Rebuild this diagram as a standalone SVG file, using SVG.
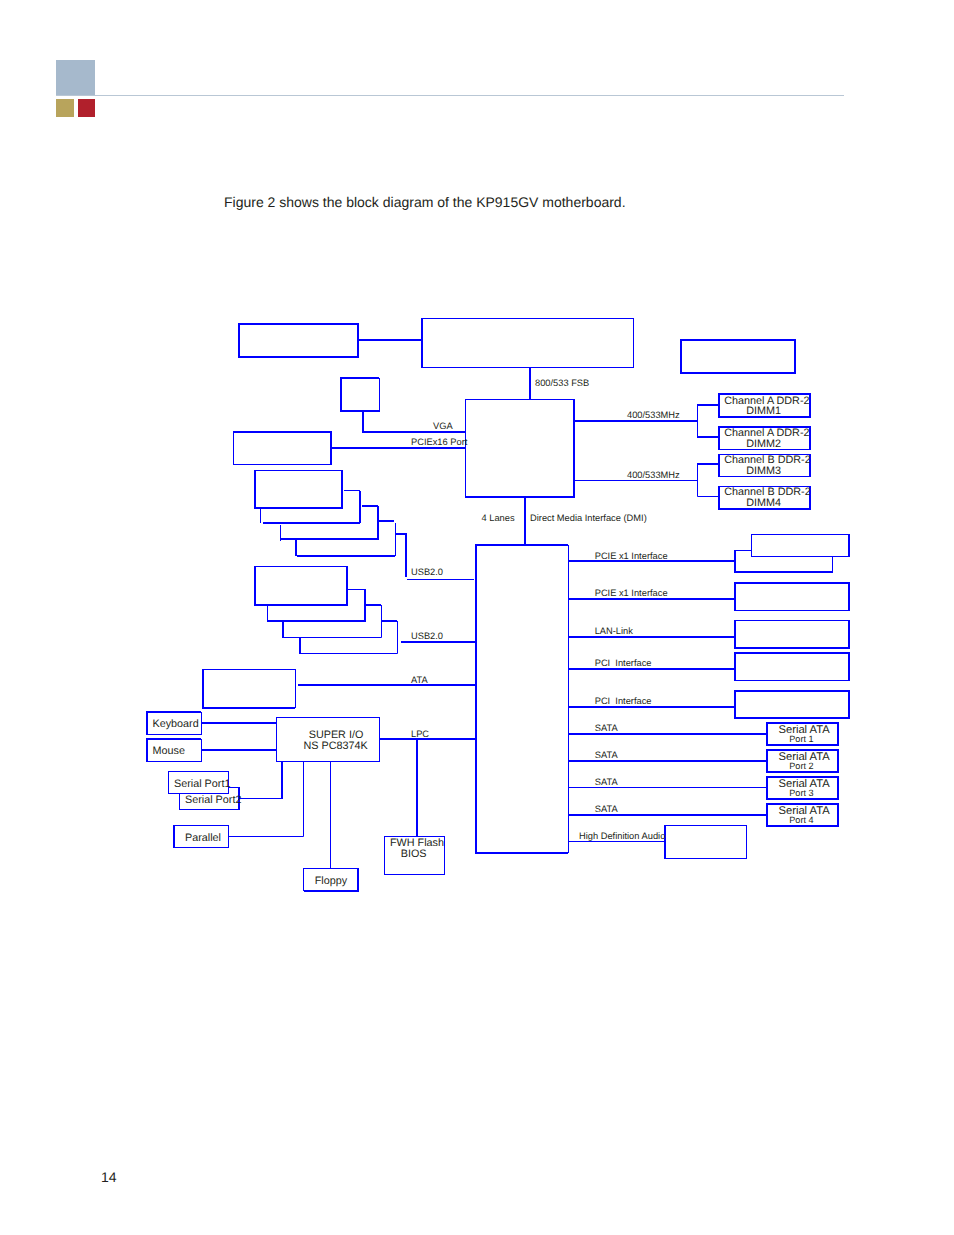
<svg xmlns="http://www.w3.org/2000/svg" width="954" height="1235" viewBox="0 0 954 1235">
<style>
text{font-family:"Liberation Sans",Arial,sans-serif;fill:#231f20;font-size:10.8px;text-rendering:geometricPrecision;white-space:pre}
.s{font-size:9.3px}
.p{font-size:9.1px}
.a{font-size:11.2px}
.r{fill:#fff;stroke:#00f;stroke-width:1}
.h{fill:#fff;stroke:#00f;stroke-width:2}
.t{fill:none;stroke:#00f;stroke-width:2}
.n{fill:none;stroke:#00f;stroke-width:1}
</style>
<rect width="954" height="1235" fill="#fff"/>
<g id="header">
<rect x="56" y="60" width="39" height="35" fill="#a6b9cc"/>
<rect x="56" y="95" width="788" height="1" fill="#b9c7d5"/>
<rect x="56" y="99" width="18" height="18" fill="#b8a45c"/>
<rect x="78" y="99" width="17" height="18" fill="#b1202c"/>
</g>
<text x="224" y="206.500" style="font-size:14px">Figure 2 shows the block diagram of the KP915GV motherboard.</text>
<text x="101" y="1181.500" style="font-size:14px">14</text>

<g id="node-top-left"><rect class="h" x="239" y="324" width="119" height="33"/></g>
<g id="node-cpu"><rect class="r" x="422.500" y="318.500" width="211" height="49"/><path class="t" d="M422 318V368"/></g>
<g id="node-top-right"><rect class="h" x="681" y="340" width="114" height="33"/></g>
<g id="node-vga"><rect class="r" x="341.500" y="378.500" width="38" height="33"/><path class="t" d="M379 378H341V411H379"/></g>
<g id="node-pcie16"><rect class="r" x="233.500" y="432.500" width="98" height="32"/><path class="t" d="M233 432H331V464"/></g>
<g id="node-mch"><rect class="r" x="465.500" y="399.500" width="109" height="98"/><path class="t" d="M574 399V497H465"/></g>

<g id="node-usb-a4"><path class="n" d="M395.500 523V556"/><path class="t" d="M296 540V556M297 556H395"/></g>
<g id="node-usb-a3"><path class="n" d="M280.500 525V541"/><path class="t" d="M378 506V539H280M362 506H378"/></g>
<g id="node-usb-a2"><path class="n" d="M344 490.500H360M260.500 508V523"/><path class="t" d="M360 491V523M263 523H360"/></g>
<g id="node-usb-a1"><rect class="r" x="255.500" y="470.500" width="87" height="38"/><path class="t" d="M255 470V508H342V470"/></g>

<g id="node-usb-b4"><path class="n" d="M397.500 621V653.500H300"/><path class="t" d="M300 637V654"/></g>
<g id="node-usb-b3"><path class="n" d="M381.500 605V637.500H283"/><path class="t" d="M283 621V638"/></g>
<g id="node-usb-b2"><path class="n" d="M347 589.500H365M267.500 605V621"/><path class="t" d="M365 589V621H267"/></g>
<g id="node-usb-b1"><rect class="r" x="255.500" y="566.500" width="92" height="38"/><path class="t" d="M255 566V605H347V566"/></g>

<g id="node-ata"><rect class="r" x="203.500" y="669.500" width="92" height="38"/><path class="t" d="M203 669V708H295"/></g>
<g id="node-keyboard"><rect class="r" x="147.500" y="712.500" width="54" height="22"/><path class="t" d="M147 735V712H201"/><text x="152.500" y="726.700">Keyboard</text></g>
<g id="node-mouse"><rect class="r" x="147.500" y="739.500" width="54" height="22"/><path class="t" d="M147 762V739H201"/><text x="152.500" y="753.700">Mouse</text></g>
<g id="node-superio"><rect class="r" x="276.500" y="717.500" width="103" height="44"/><text x="308.700" y="737.800">SUPER I/O</text><text x="303.500" y="749">NS PC8374K</text></g>
<g id="node-serial2"><rect class="r" x="179.500" y="787.500" width="60" height="22"/><path class="t" d="M239 787V810"/><text x="185" y="802.700">Serial Port2</text></g>
<g id="node-serial1"><rect class="r" x="168.500" y="771.500" width="60" height="22"/><text x="174" y="786.700">Serial Port1</text></g>
<g id="node-parallel"><rect class="r" x="173.500" y="825.500" width="55" height="22"/><path class="t" d="M174 825V848"/><text x="185" y="840.700">Parallel</text></g>
<g id="node-floppy"><rect class="r" x="303.500" y="868.500" width="55" height="22"/><path class="t" d="M304 891H358V868"/><text x="314.700" y="884">Floppy</text></g>
<g id="node-fwh"><rect class="r" x="384.500" y="836.500" width="60" height="38"/><text x="390" y="845.700">FWH Flash</text><text x="400.700" y="856.700">BIOS</text></g>
<g id="node-ich"><rect class="r" x="476.500" y="545.500" width="92" height="307"/><path class="t" d="M568 545H476V853H568"/></g>

<g id="node-dimm1"><rect class="h" x="719" y="394" width="91" height="23"/><text x="724.300" y="403.700">Channel A DDR-2</text><text x="746.200" y="414">DIMM1</text></g>
<g id="node-dimm2"><rect class="r" x="719.500" y="427.500" width="91" height="22"/><path class="t" d="M719 450V427H810V450"/><text x="724.300" y="436">Channel A DDR-2</text><text x="746.200" y="447">DIMM2</text></g>
<g id="node-dimm3"><rect class="r" x="719.500" y="454.500" width="91" height="22"/><path class="t" d="M719 454V477M810 454V477"/><text x="724.300" y="462.700">Channel B DDR-2</text><text x="746.200" y="474">DIMM3</text></g>
<g id="node-dimm4"><rect class="r" x="719.500" y="486.500" width="91" height="22"/><path class="t" d="M719 486V509H810V486"/><text x="724.300" y="494.700">Channel B DDR-2</text><text x="746.200" y="505.700">DIMM4</text></g>

<g id="node-pcie-back"><path class="n" d="M735 550.500H752M832.500 556V572"/><path class="t" d="M735 550V572H833"/></g>
<g id="node-pcie-front"><rect class="r" x="751.500" y="534.500" width="98" height="22"/><path class="t" d="M849 534V557"/></g>
<g id="node-pcie2"><rect class="r" x="735.500" y="583.500" width="114" height="27"/><path class="t" d="M735 611V583H849V611"/></g>
<g id="node-lan"><rect class="r" x="735.500" y="620.500" width="114" height="27"/><path class="t" d="M735 620V648H849V620"/></g>
<g id="node-pci1"><rect class="r" x="735.500" y="652.500" width="114" height="28"/><path class="t" d="M735 681V653H849V681"/></g>
<g id="node-pci2"><rect class="h" x="735" y="691" width="114" height="27"/></g>

<g id="node-sata1"><rect class="h" x="767" y="723" width="71" height="22"/><text class="a" x="778.500" y="733">Serial ATA</text><text class="p" x="789.300" y="741.700">Port 1</text></g>
<g id="node-sata2"><rect class="h" x="767" y="750" width="71" height="22"/><text class="a" x="778.500" y="760">Serial ATA</text><text class="p" x="789.300" y="768.700">Port 2</text></g>
<g id="node-sata3"><rect class="h" x="767" y="777" width="71" height="22"/><text class="a" x="778.500" y="787">Serial ATA</text><text class="p" x="789.300" y="795.700">Port 3</text></g>
<g id="node-sata4"><rect class="h" x="767" y="804" width="71" height="22"/><text class="a" x="778.500" y="814">Serial ATA</text><text class="p" x="789.300" y="822.700">Port 4</text></g>
<g id="node-hda"><rect class="r" x="665.500" y="825.500" width="81" height="33"/><path class="t" d="M665 825V859"/></g>

<g id="connectors">
<path class="t" d="M358 340H422M530 367V399M363 411V432H466M331 448H466M525 497V545"/>
<path class="t" d="M574 421H697M697 405H719M697 437H719M697 464H719"/>
<path class="n" d="M697.500 405V437M574 480.500H697.500M697.500 464V496.500H719"/>
<path class="t" d="M395 534H406V577"/>
<path class="n" d="M407 579.500H474"/>
<path class="t" d="M401 642H476M298 685H476M365 605H381M381 621H397"/>
<path class="t" d="M378 521H394"/>
<path class="t" d="M202 723H276M202 750H276M380 739H476M417 739V836M282 762V799"/>
<path class="n" d="M240 798.500H282M228 836.500H303.500V762M330.500 762V868"/>
<path class="t" d="M569 561H735M569 599H735M569 637H735M569 669H735M569 707H735M569 734H767M569 761H767M569 815H767"/>
<path class="n" d="M569 787.500H767M569 841.500H665"/>
</g>
<g id="connector-labels">
<text class="s" x="535" y="385.700">800/533 FSB</text>
<text class="s" x="433" y="428.700">VGA</text>
<text class="s" x="411" y="445">PCIEx16 Port</text>
<text class="s" x="627" y="418">400/533MHz</text>
<text class="s" x="627" y="477.700">400/533MHz</text>
<text class="s" x="481.500" y="521">4 Lanes</text>
<text class="s" x="530" y="521">Direct Media Interface (DMI)</text>
<text class="s" x="411" y="575">USB2.0</text>
<text class="s" x="411" y="638.700">USB2.0</text>
<text class="s" x="411" y="682.700">ATA</text>
<text class="s" x="411" y="736.700">LPC</text>
<text class="s" x="594.700" y="559">PCIE x1 Interface</text>
<text class="s" x="594.700" y="596">PCIE x1 Interface</text>
<text class="s" x="594.700" y="634">LAN-Link</text>
<text class="s" x="594.700" y="665.700">PCI  Interface</text>
<text class="s" x="594.700" y="703.700">PCI  Interface</text>
<text class="s" x="594.700" y="730.700">SATA</text>
<text class="s" x="594.700" y="757.700">SATA</text>
<text class="s" x="594.700" y="784.700">SATA</text>
<text class="s" x="594.700" y="811.700">SATA</text>
<text class="s" x="579" y="838.700">High Definition Audio</text>
</g>
</svg>
